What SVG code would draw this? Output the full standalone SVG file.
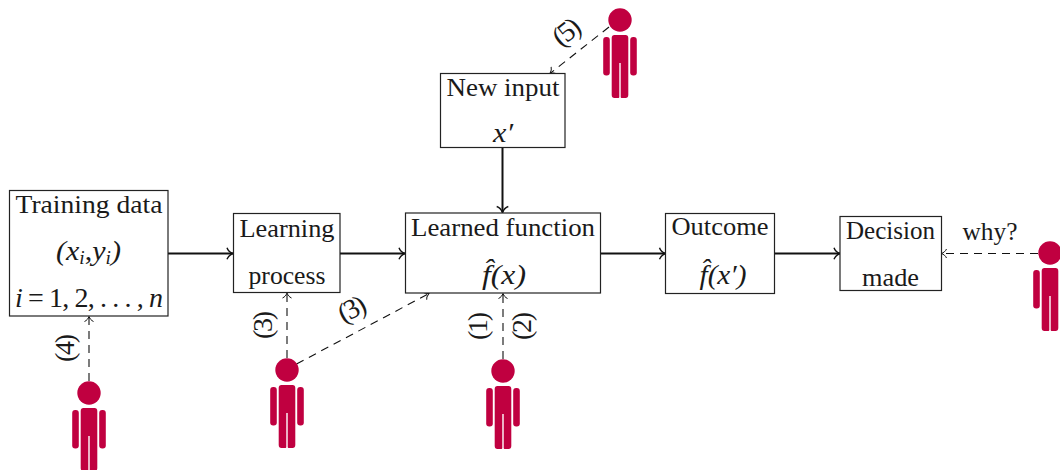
<svg xmlns="http://www.w3.org/2000/svg" xmlns:xlink="http://www.w3.org/1999/xlink" width="1060" height="470" viewBox="0 0 1060 470">
<style>
text{font-family:"Liberation Serif","Times New Roman",serif;font-size:26px;fill:#1a1a1a;text-anchor:middle}
.m{font-style:italic}
.b{font-size:28px}
.s{font-size:18px}
.box{fill:#fff;stroke:#222;stroke-width:1.2}
.solid{fill:none;stroke:#111;stroke-width:2;marker-end:url(#big)}
.dash{fill:none;stroke:#111;stroke-width:1.1;stroke-dasharray:8 6;marker-end:url(#small)}
.p{fill:#c00040}
</style>
<defs>
<marker id="big" markerUnits="userSpaceOnUse" markerWidth="12" markerHeight="14" refX="8" refY="7" orient="auto"><path d="M2 1.200C3 4.200 5.500 6 8 7C5.500 8 3 9.800 2 12.800" fill="none" stroke="#111" stroke-width="1.400"/></marker>
<marker id="small" markerUnits="userSpaceOnUse" markerWidth="10" markerHeight="12" refX="7" refY="6" orient="auto"><path d="M2 1.500C3 3.800 5 5.200 7 6C5 6.800 3 8.200 2 10.500" fill="none" stroke="#111" stroke-width="1"/></marker>
<g id="person">
<circle cx="0" cy="0" r="11.700" class="p"/>
<path class="p" d="M-5.500 15H5.500Q8.300 15 8.300 18V75Q8.300 78 5.500 78H1.600Q0.700 78 0.700 77V43H-0.700V77Q-0.700 78 -1.600 78H-5.500Q-8.300 78 -8.300 75V18Q-8.300 15 -5.500 15Z"/>
<rect class="p" x="-16.800" y="17" width="6.600" height="38.500" rx="3"/>
<rect class="p" x="10.200" y="17" width="6.600" height="38.500" rx="3"/>
</g>
</defs>
<rect width="1060" height="470" fill="#fff"/>
<g id="connectors">
<path class="solid" d="M168 253.500H233"/>
<path class="solid" d="M340 253.500H405"/>
<path class="solid" d="M600.500 253.500H665.500"/>
<path class="solid" d="M775 253.500H840"/>
<path class="solid" d="M502.500 147V212.500"/>
<path class="dash" d="M89 381V316.500"/>
<path class="dash" d="M287 358V293"/>
<path class="dash" d="M503 359V293.500"/>
<path class="dash" d="M296.500 364L429 293.500"/>
<path class="dash" d="M609 27L550 73.500"/>
<path class="dash" d="M1038 253.500H941.500"/>
</g>
<g id="n-training">
<rect class="box" x="9.500" y="190.500" width="158.500" height="125.500"/>
<text x="89" y="213" textLength="147" lengthAdjust="spacingAndGlyphs">Training data</text>
<text x="88.500" y="260" class="m b" textLength="65" lengthAdjust="spacingAndGlyphs">(x<tspan class="s" dy="4">i</tspan><tspan dy="-4" font-style="normal">,</tspan>y<tspan class="s" dy="4">i</tspan><tspan dy="-4">)</tspan></text>
<text x="89" y="306.500" class="b" textLength="148" lengthAdjust="spacing"><tspan class="m">i</tspan> = 1, 2, . . . , <tspan class="m">n</tspan></text>
</g>
<g id="n-learning">
<rect class="box" x="233.500" y="213.500" width="106.500" height="79"/>
<text x="287" y="236.500" textLength="95" lengthAdjust="spacingAndGlyphs">Learning</text>
<text x="287" y="283.500" textLength="77" lengthAdjust="spacingAndGlyphs">process</text>
</g>
<g id="n-function">
<rect class="box" x="405.500" y="213" width="195" height="80"/>
<text x="503" y="236" textLength="184" lengthAdjust="spacingAndGlyphs">Learned function</text>
<text x="504" y="284" class="m b" textLength="44" lengthAdjust="spacingAndGlyphs">f̂(x)</text>
</g>
<g id="n-input">
<rect class="box" x="440.500" y="73.500" width="124.500" height="74"/>
<text x="503" y="96" textLength="113" lengthAdjust="spacingAndGlyphs">New input</text>
<text x="503" y="142" class="m b" textLength="20" lengthAdjust="spacingAndGlyphs">x′</text>
</g>
<g id="n-outcome">
<rect class="box" x="665.500" y="213.500" width="109" height="80"/>
<text x="720" y="235" textLength="97" lengthAdjust="spacingAndGlyphs">Outcome</text>
<text x="723" y="284" class="m b" textLength="47" lengthAdjust="spacingAndGlyphs">f̂(x′)</text>
</g>
<g id="n-decision">
<rect class="box" x="840" y="216.500" width="101.500" height="74"/>
<text x="890.500" y="239" textLength="89" lengthAdjust="spacingAndGlyphs">Decision</text>
<text x="890.500" y="286" textLength="57" lengthAdjust="spacingAndGlyphs">made</text>
</g>
<g id="labels">
<text class="b" transform="translate(74 348) rotate(-90)" textLength="28">(4)</text>
<text class="b" transform="translate(272 325) rotate(-90)" textLength="28">(3)</text>
<text class="b" transform="translate(356 317) rotate(-28)" textLength="28">(3)</text>
<text class="b" transform="translate(487 326) rotate(-90)" textLength="28">(1)</text>
<text class="b" transform="translate(531 326) rotate(-90)" textLength="28">(2)</text>
<text class="b" transform="translate(572 39) rotate(-38)" textLength="28">(5)</text>
<text x="990" y="240" textLength="55" lengthAdjust="spacingAndGlyphs">why?</text>
</g>
<use id="person-train" href="#person" x="89" y="393"/>
<use id="person-learn" href="#person" x="287" y="370"/>
<use id="person-func" href="#person" x="503" y="371"/>
<use id="person-input" href="#person" x="620" y="20"/>
<use id="person-why" href="#person" x="1050" y="253"/>
</svg>
